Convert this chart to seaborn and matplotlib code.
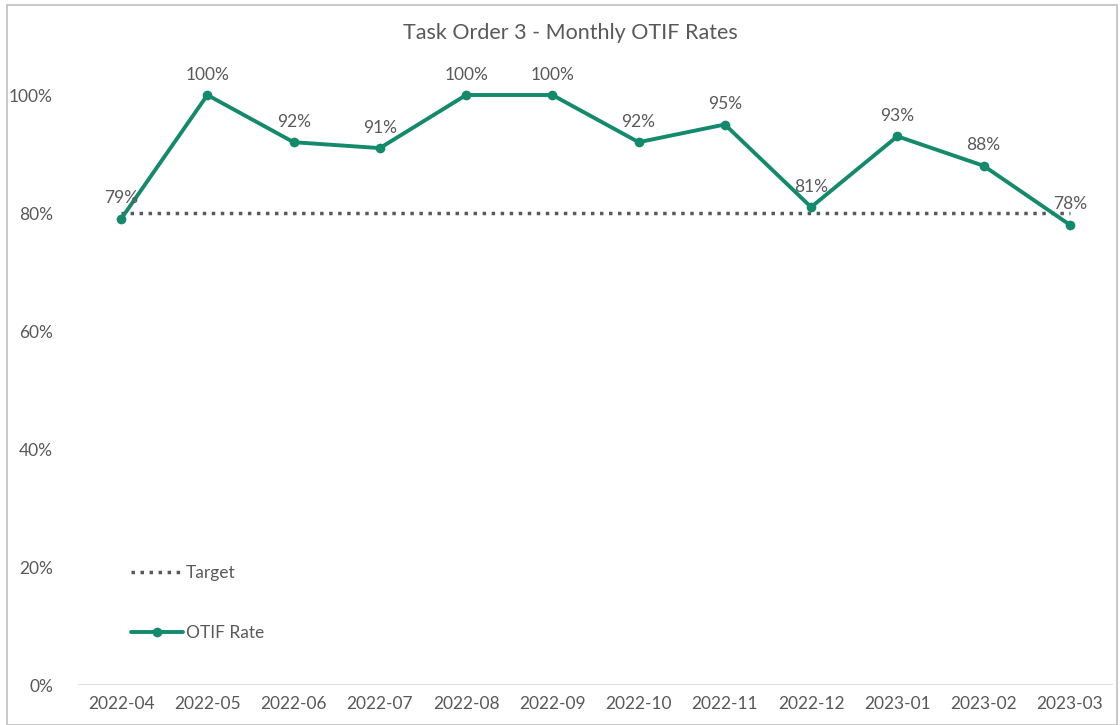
import pandas as pd
import matplotlib.pyplot as plt
import seaborn as sns
from matplotlib.patches import Rectangle
from matplotlib.ticker import PercentFormatter

# data
months = ["2022-04", "2022-05", "2022-06", "2022-07", "2022-08", "2022-09",
          "2022-10", "2022-11", "2022-12", "2023-01", "2023-02", "2023-03"]
otif = [0.79, 1.00, 0.92, 0.91, 1.00, 1.00, 0.92, 0.95, 0.81, 0.93, 0.88, 0.78]
target = [0.80] * 12

df = pd.DataFrame({"Month": months, "OTIF Rate": otif, "Target": target})

sns.set_style("white")
plt.rcParams["font.family"] = ["Lato", "DejaVu Sans"]
text_color = "#595959"
green = "#138a6c"

fig = plt.figure(figsize=(11.2, 7.25), dpi=100)
ax = fig.add_axes([78 / 1120, 1 - 685 / 725, (1113 - 78) / 1120, (685 - 50) / 725])

sns.lineplot(data=df, x="Month", y="Target", ax=ax, color=text_color,
             linestyle=(0, (1, 1.6)), linewidth=2.5, label="Target", sort=False)
sns.lineplot(data=df, x="Month", y="OTIF Rate", ax=ax, color=green,
             linewidth=2.8, marker="o", markersize=7, markeredgewidth=0,
             label="OTIF Rate", sort=False)

for i, v in enumerate(otif):
    ax.annotate(f"{v:.0%}", (i, v), xytext=(0, 9), textcoords="offset points",
                ha="center", va="bottom", fontsize=12.5, color=text_color)

ax.set_xlim(-0.5, 11.5)
ax.set_ylim(0, (685 - 50) / 590)
ax.set_yticks([0, 0.2, 0.4, 0.6, 0.8, 1.0])
ax.yaxis.set_major_formatter(PercentFormatter(1.0, decimals=0))
ax.tick_params(axis="both", length=0, labelsize=12.5, labelcolor=text_color)
ax.tick_params(axis="x", pad=8)
ax.tick_params(axis="y", pad=18)
ax.set_xlabel("")
ax.set_ylabel("")
for s in ax.spines.values():
    s.set_visible(False)
ax.axhline(0, color="#d9d9d9", linewidth=1.2, zorder=0)

ax.legend(loc="upper left", bbox_to_anchor=(115 / 1120, 1 - 549 / 725),
          bbox_transform=fig.transFigure, frameon=False, fontsize=12.5,
          labelcolor=text_color, handlelength=3.0, handletextpad=0.2,
          labelspacing=2.55)

fig.text(0.509, 1 - 33 / 725, "Task Order 3 - Monthly OTIF Rates",
         ha="center", va="center", fontsize=15.5, color=text_color)

fig.patches.append(Rectangle((7 / 1120, 0), 1 - 10 / 1120, 1 - 5 / 725,
                             transform=fig.transFigure, fill=False,
                             edgecolor="#bfbfbf", linewidth=1.2))

fig.savefig("out.png", dpi=100)
